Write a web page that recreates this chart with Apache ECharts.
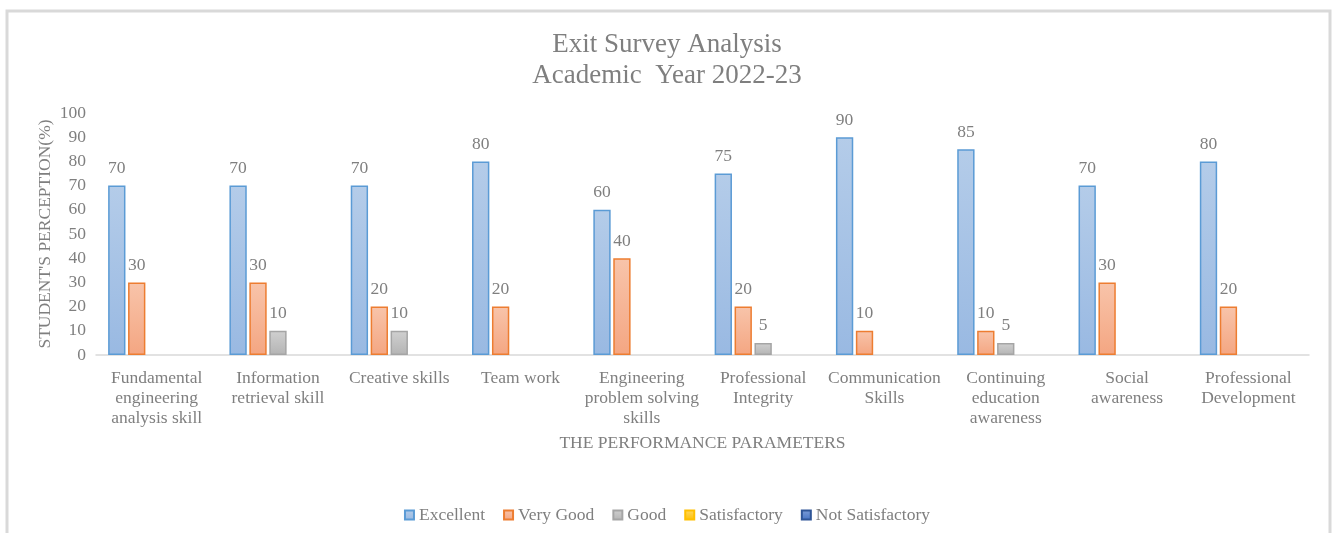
<!DOCTYPE html>
<html>
<head>
<meta charset="utf-8">
<script src="https://cdn.jsdelivr.net/npm/echarts@6/dist/echarts.min.js"></script>
<style>
  html, body { margin: 0; padding: 0; background: #fff; }
  #chart { width: 1334px; height: 533px; }
</style>
</head>
<body>
<div id="chart"></div>
<script>
// categories (line breaks as in the original labels)
var categories = [
  'Fundamental\nengineering\nanalysis skill',
  'Information\nretrieval skill',
  'Creative skills',
  'Team work',
  'Engineering\nproblem solving\nskills',
  'Professional\nIntegrity',
  'Communication\nSkills',
  'Continuing\neducation\nawareness',
  'Social\nawareness',
  'Professional\nDevelopment'
]
var excellent = [70, 70, 70, 80, 60, 75, 90, 85, 70, 80]
var veryGood = [30, 30, 20, 20, 40, 20, 10, 10, 30, 20]
var good = [null, 10, 10, null, null, 5, null, 5, null, null]
var satisfactory = [null, null, null, null, null, null, null, null, null, null]
var notSatisfactory = [null, null, null, null, null, null, null, null, null, null]

var font = 'Liberation Serif'
var gray = '#7f7f7f'
var fs = 17.5

function grad(top, bottom) {
  return new echarts.graphic.LinearGradient(0, 0, 0, 1, [
    { offset: 0, color: top },
    { offset: 1, color: bottom },
  ])
}

function barSeries(name, data, fill, border) {
  return {
    name: name,
    type: 'bar',
    data: data,
    barCategoryGap: '20%',
    barGap: '15%',
    itemStyle: {
      color: fill,
      borderColor: border,
      borderWidth: 1.5,
    },
    label: {
      show: true,
      position: 'top',
      distance: 8,
      color: gray,
      fontFamily: font,
      fontSize: fs,
    },
  }
}

var chart = echarts.init(document.getElementById('chart'))
var option = {
  animation: false,
  title: {
    text: 'Exit Survey Analysis\nAcademic  Year 2022-23',
    left: 'center',
    top: 24,
    textStyle: {
      fontFamily: font,
      fontSize: 27,
      fontWeight: 'normal',
      color: gray,
      lineHeight: 31,
    },
  },
  graphic: [
    {
      type: 'rect',
      shape: { x: 7, y: 11, width: 1323, height: 600 },
      style: { fill: 'none', stroke: '#d9d9d9', lineWidth: 3 },
      silent: true,
    },
  ],
  legend: {
    bottom: 4,
    left: 'center',
    icon: 'rect',
    itemWidth: 9,
    itemHeight: 9,
    itemGap: 18,
    textStyle: { fontFamily: font, fontSize: fs, color: gray },
    data: ['Excellent', 'Very Good', 'Good', 'Satisfactory', 'Not Satisfactory'],
  },
  grid: {
    left: 96,
    right: 25,
    top: 113,
    bottom: 178,
  },
  xAxis: {
    type: 'category',
    data: categories,
    name: 'THE PERFORMANCE PARAMETERS',
    nameLocation: 'middle',
    nameGap: 79,
    nameMoveOverlap: false,
    nameTextStyle: { fontFamily: font, fontSize: fs, color: gray },
    axisLine: { lineStyle: { color: '#d9d9d9', width: 1.5 } },
    axisTick: { show: false },
    axisLabel: {
      interval: 0,
      margin: 13,
      fontFamily: font,
      fontSize: fs,
      lineHeight: 20,
      color: gray,
    },
  },
  yAxis: {
    type: 'value',
    min: 0,
    max: 100,
    interval: 10,
    name: "STUDENT'S PERCEPTION(%)",
    nameLocation: 'middle',
    nameGap: 42,
    nameMoveOverlap: false,
    nameTextStyle: { fontFamily: font, fontSize: fs, color: gray },
    axisLine: { show: false },
    axisTick: { show: false },
    splitLine: { show: false },
    axisLabel: {
      margin: 10,
      fontFamily: font,
      fontSize: fs,
      color: gray,
    },
  },
  series: [
    barSeries('Excellent', excellent, grad('#b4cce9', '#99b9e2'), '#5b9bd5'),
    barSeries('Very Good', veryGood, grad('#f8c4aa', '#f4a682'), '#ed7d31'),
    barSeries('Good', good, grad('#d0d0d0', '#b4b4b4'), '#a5a5a5'),
    barSeries('Satisfactory', satisfactory, grad('#ffd966', '#ffc000'), '#ffc000'),
    barSeries('Not Satisfactory', notSatisfactory, grad('#7f9fd8', '#4472c4'), '#2f5597'),
  ],
}
chart.setOption(option)
</script>
</body>
</html>
